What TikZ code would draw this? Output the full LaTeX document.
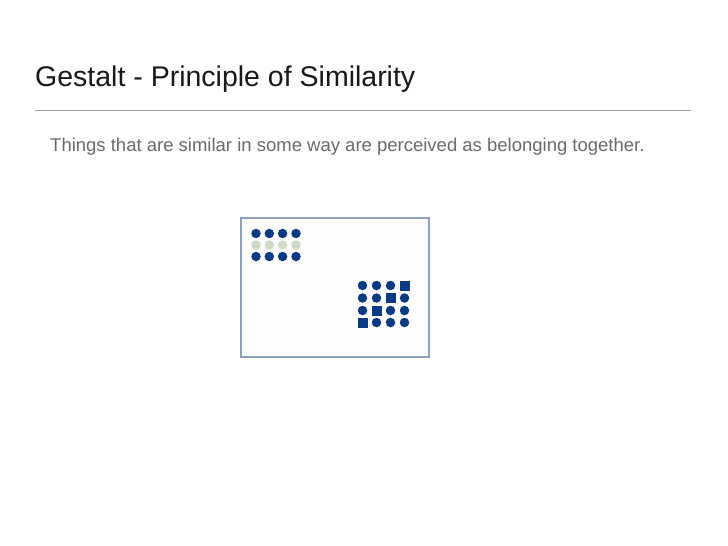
\documentclass[tikz,border=0pt]{standalone}
\usepackage{fontspec}
\setmainfont{Liberation Sans}
\usepackage{xcolor}
\definecolor{navy}{HTML}{0A3A82}
\definecolor{pale}{HTML}{CFDBC7}
\definecolor{frame}{HTML}{8DA0BE}
\definecolor{rulegray}{HTML}{A0A0A0}
\definecolor{textgray}{HTML}{6A6A6A}

\begin{document}
\begin{tikzpicture}[x=1pt, y=-1pt]
\tikzset{
  dot/.style = {shape = circle, fill = navy, minimum size = 9.5pt, inner sep = 0pt},
  palebox/.style = {shape = circle, fill = pale, minimum size = 9.5pt, inner sep = 0pt},
  sq/.style = {shape = rectangle, fill = navy, minimum size = 10pt, inner sep = 0pt}
}
\useasboundingbox [fill = white] (0, 0) rectangle (728, 546);

\node [anchor = base west, inner sep = 0pt, text = black!90, font = \fontsize{28.5}{32}\selectfont] (title) at (35, 86) {Gestalt - Principle of Similarity};
\coordinate (rule0) at (35, 110);
\coordinate (rule1) at (691, 110);
\draw [rulegray, line width = 0.8pt] (rule0) -- (rule1);

\node [anchor = base west, inner sep = 0pt, text = textgray, font = \fontsize{18.5}{22}\selectfont] (sub) at (50, 151) {Things that are similar in some way are perceived as belonging together.};

\node [draw = frame, fill = white!98!frame, line width = 1.2pt, minimum width = 188pt, minimum height = 139pt, inner sep = 0pt] (frame) at (335, 287.5) {};

% rows of dots, top left
\foreach \i/\x in {0/256, 1/269.3, 2/282.6, 3/296} {
  \node [dot] (top\i) at (\x, 233.5) {};
  \node [palebox] (mid\i) at (\x, 245) {};
  \node [dot] (low\i) at (\x, 256.5) {};
}

% grid, bottom right
\foreach \r/\y in {0/285.5, 1/298, 2/310.5, 3/322.5} {
  \foreach \c/\x in {0/362.5, 1/376.5, 2/390.5, 3/404.5} {
    \pgfmathtruncatemacro{\s}{\r + \c}
    \ifnum\s=3
      \node [sq] (g\r\c) at (\x, \y) {};
    \else
      \node [dot] (g\r\c) at (\x, \y) {};
    \fi
  }
}

\end{tikzpicture}
\end{document}
